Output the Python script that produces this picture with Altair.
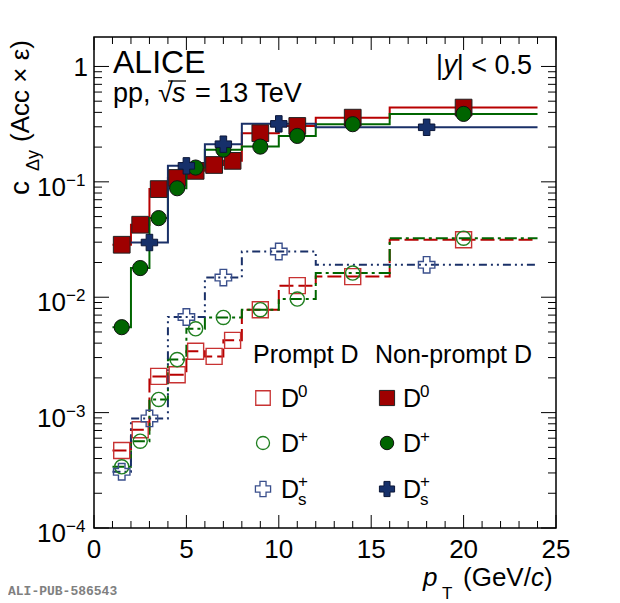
import altair as alt
import pandas as pd

# ---------------- data ----------------
# non-prompt (filled markers, solid lines)
np_d0_edges = [1, 2, 3, 4, 5, 6, 7, 8, 10, 12, 16, 24]
np_d0_vals = [0.0285, 0.0425, 0.0865, 0.108, 0.1245, 0.140, 0.152, 0.264, 0.305, 0.36, 0.44]
np_dp_edges = [1, 2, 3, 4, 5, 6, 8, 10, 12, 16, 24]
np_dp_vals = [0.0055, 0.0179, 0.0485, 0.088, 0.133, 0.19, 0.202, 0.25, 0.316, 0.388]
np_ds_edges = [2, 4, 6, 8, 12, 24]
np_ds_vals = [0.0298, 0.1376, 0.212, 0.318, 0.297]
# prompt (open markers, dashed lines)
pr_d0_edges = [1, 2, 3, 4, 5, 6, 7, 8, 10, 12, 16, 24]
pr_d0_vals = [4.7e-4, 7.1e-4, 2.06e-3, 2.13e-3, 3.4e-3, 3.07e-3, 4.23e-3, 7.8e-3, 0.0126, 0.0151, 0.0315]
pr_dp_edges = [1, 2, 3, 4, 5, 6, 8, 10, 12, 16, 24]
pr_dp_vals = [3.39e-4, 5.65e-4, 1.30e-3, 2.88e-3, 5.33e-3, 6.68e-3, 7.8e-3, 9.64e-3, 0.0162, 0.0325]
pr_ds_edges = [1, 2, 4, 6, 8, 12, 24]
pr_ds_vals = [3.07e-4, 8.9e-4, 6.74e-3, 0.0148, 0.0249, 0.0191]

# axis ticks / labels
x_major = [0, 5, 10, 15, 20, 25]
x_minor = [1, 2, 3, 4, 6, 7, 8, 9, 11, 12, 13, 14, 16, 17, 18, 19, 21, 22, 23, 24]
y_major = [1e-4, 1e-3, 1e-2, 1e-1, 1.0]
y_exps = ["−4", "−3", "−2", "−1"]
y_minor = [m * d for d in [1e-4, 1e-3, 1e-2, 1e-1] for m in [2, 3, 4, 5, 6, 7, 8, 9]]

# ---------------- layout ----------------
W, H = 462, 491
FONT = "Liberation Sans"
XS = alt.Scale(domain=[0, 25], nice=False, zero=False)
YS = alt.Scale(type="log", domain=[1e-4, 1.8], nice=False)

RED_F, RED_L, RED_O = "#9e0000", "#b80000", "#c83232"
GRN_F, GRN_L, GRN_O = "#006400", "#006600", "#1f7f1f"
BLU_F, BLU_L, BLU_O = "#16306a", "#1a3068", "#3a4f8c"


def steps(edges, vals):
    xs = list(edges[:-1]) + [edges[-1]]
    ys = list(vals) + [vals[-1]]
    return pd.DataFrame({"x": xs, "y": ys})


def centers(edges, vals):
    return pd.DataFrame({"x": [(a + b) / 2 for a, b in zip(edges[:-1], edges[1:])], "y": vals})


def enc(ch):
    return ch.encode(x=alt.X("x:Q", scale=XS, axis=None), y=alt.Y("y:Q", scale=YS, axis=None))


def step_line(edges, vals, color, dash=None):
    kw = dict(interpolate="step-after", color=color, strokeWidth=2)
    if dash:
        kw["strokeDash"] = dash
    return enc(alt.Chart(steps(edges, vals)).mark_line(**kw))


def markers(edges, vals, shape, color, filled, size, stroke=None, sw=1.0):
    if filled:
        m = alt.Chart(centers(edges, vals)).mark_point(
            shape=shape, filled=True, fill=color, stroke=stroke, strokeWidth=sw, size=size, opacity=1)
    else:
        m = alt.Chart(centers(edges, vals)).mark_point(
            shape=shape, filled=False, color=color, strokeWidth=sw, size=size, opacity=1)
    return enc(m)


one = pd.DataFrame({"a": [0]})


def txt(s, x, y, size=25, align="left", style="normal", angle=0, font=FONT, color="black", weight="normal"):
    return alt.Chart(one).mark_text(
        text=s, fontSize=size, align=align, baseline="alphabetic", fontStyle=style,
        angle=angle, font=font, color=color, fontWeight=weight).encode(
        x=alt.value(x), y=alt.value(y))


def sym(shape, x, y, color, filled, size, stroke=None, sw=1.0):
    if filled:
        m = alt.Chart(one).mark_point(shape=shape, filled=True, fill=color, stroke=stroke,
                                      strokeWidth=sw, size=size, opacity=1)
    else:
        m = alt.Chart(one).mark_point(shape=shape, filled=False, color=color,
                                      strokeWidth=sw, size=size, opacity=1)
    return m.encode(x=alt.value(x), y=alt.value(y))


layers = []

# step lines
layers += [
    step_line(pr_d0_edges, pr_d0_vals, RED_L, [14, 5]),
    step_line(pr_dp_edges, pr_dp_vals, GRN_L, [12, 4, 3, 4]),
    step_line(pr_ds_edges, pr_ds_vals, BLU_L, [8, 4, 2, 4, 2, 4]),
    step_line(np_d0_edges, np_d0_vals, RED_L),
    step_line(np_dp_edges, np_dp_vals, GRN_L),
    step_line(np_ds_edges, np_ds_vals, BLU_L),
]

# markers
layers += [
    markers(pr_d0_edges, pr_d0_vals, "square", RED_O, False, 256, sw=1.4),
    markers(pr_dp_edges, pr_dp_vals, "circle", GRN_O, False, 200, sw=1.4),
    markers(pr_ds_edges, pr_ds_vals, "cross", BLU_O, False, 270, sw=1.4),
    markers(np_d0_edges, np_d0_vals, "square", RED_F, True, 280, stroke="#222222"),
    markers(np_dp_edges, np_dp_vals, "circle", GRN_F, True, 230, stroke="#111111"),
    markers(np_ds_edges, np_ds_vals, "cross", BLU_F, True, 270, stroke="#0b1638"),
]

# ticks (inward, ROOT style)
def yticks(vals, length):
    d = pd.DataFrame({"v": vals})
    y = alt.Y("v:Q", scale=YS, axis=None)
    return [
        alt.Chart(d).mark_rule(color="black", strokeWidth=1).encode(y=y, x=alt.value(0), x2=alt.value(length)),
        alt.Chart(d).mark_rule(color="black", strokeWidth=1).encode(y=y, x=alt.value(W - length), x2=alt.value(W)),
    ]


def xticks(vals, length):
    d = pd.DataFrame({"v": vals})
    x = alt.X("v:Q", scale=XS, axis=None)
    return [
        alt.Chart(d).mark_rule(color="black", strokeWidth=1).encode(x=x, y=alt.value(H - length), y2=alt.value(H)),
        alt.Chart(d).mark_rule(color="black", strokeWidth=1).encode(x=x, y=alt.value(0), y2=alt.value(length)),
    ]


layers += yticks(y_major, 15) + yticks(y_minor, 8) + xticks(x_major, 13) + xticks(x_minor, 7)

# x tick labels
layers.append(
    alt.Chart(pd.DataFrame({"v": x_major, "t": [str(v) for v in x_major]})).mark_text(
        fontSize=26, font=FONT, align="center", baseline="alphabetic", color="black").encode(
        x=alt.X("v:Q", scale=XS, axis=None), y=alt.value(H + 30), text="t:N"))

# y tick labels: "1" and 10^n
layers.append(
    alt.Chart(pd.DataFrame({"v": [1.0], "t": ["1"]})).mark_text(
        fontSize=26, font=FONT, align="right", baseline="alphabetic", dx=-6, dy=10, color="black").encode(
        y=alt.Y("v:Q", scale=YS, axis=None), x=alt.value(0), text="t:N"))
ydf = pd.DataFrame({"v": y_major[:4], "b": ["10"] * 4, "e": y_exps})
layers.append(
    alt.Chart(ydf).mark_text(fontSize=26, font=FONT, align="right", baseline="alphabetic",
                             dx=-28, dy=14, color="black").encode(
        y=alt.Y("v:Q", scale=YS, axis=None), x=alt.value(0), text="b:N"))
layers.append(
    alt.Chart(ydf).mark_text(fontSize=17, font=FONT, align="left", baseline="alphabetic",
                             dx=-28, dy=4, color="black").encode(
        y=alt.Y("v:Q", scale=YS, axis=None), x=alt.value(0), text="e:N"))

# axis titles
layers += [
    txt("p", 329, 549, 26, style="italic"),
    txt("T", 348, 562, 17),
    txt("(GeV/", 369, 549, 26),
    txt("c", 437, 549, 26, style="italic"),
    txt(")", 450, 549, 26),
]
layers += [
    txt("c", -65, 158, 28, angle=270),
    txt("Δy", -55, 134, 18, angle=270),
    txt("(Acc × ε)", -65, 105, 26, angle=270),
]

# in-plot annotations
layers += [
    txt("ALICE", 19, 36, 32),
    txt("pp, √", 19, 65, 27),
    txt("s", 78, 65, 27, style="italic"),
    txt("= 13 TeV", 101, 65, 27),
    alt.Chart(one).mark_rule(color="black", strokeWidth=1.3).encode(
        x=alt.value(74), x2=alt.value(92), y=alt.value(44)),
    txt("|", 349, 37, 27, align="right"),
    txt("y", 363, 37, 27, align="right", style="italic"),
    txt("| < 0.5", 438, 37, 27, align="right"),
]

# legend
layers += [
    txt("Prompt D", 159, 326, 25),
    txt("Non-prompt D", 281, 326, 25),
    sym("square", 169, 361, RED_O, False, 210, sw=1.3),
    sym("circle", 169, 406, GRN_O, False, 170, sw=1.3),
    sym("cross", 169, 452, BLU_O, False, 230, sw=1.3),
    sym("square", 293, 361, RED_F, True, 230, stroke="#222222"),
    sym("circle", 293, 406, GRN_F, True, 180, stroke="#111111"),
    sym("cross", 293, 452, BLU_F, True, 230, stroke="#0b1638"),
]
for dx, sx in [(187, 204), (309, 326)]:
    layers += [
        txt("D", dx, 370, 25), txt("0", sx, 360, 17),
        txt("D", dx, 415, 25), txt("+", sx, 405, 17),
        txt("D", dx, 461, 25), txt("+", sx, 450, 17), txt("s", sx, 468, 17),
    ]

# publication id
layers.append(txt("ALI-PUB-586543", -86, 558, 13, font="Liberation Mono", color="#808080", weight="bold"))

chart = alt.layer(*layers).properties(
    width=W, height=H,
    padding={"left": 86, "top": 29, "right": 44, "bottom": 75},
    autosize=alt.AutoSizeParams(type="none"),
    background="white",
).configure_view(stroke="black", strokeWidth=1.5)

chart.save("out.html", embed_options={"renderer": "svg", "actions": False})
